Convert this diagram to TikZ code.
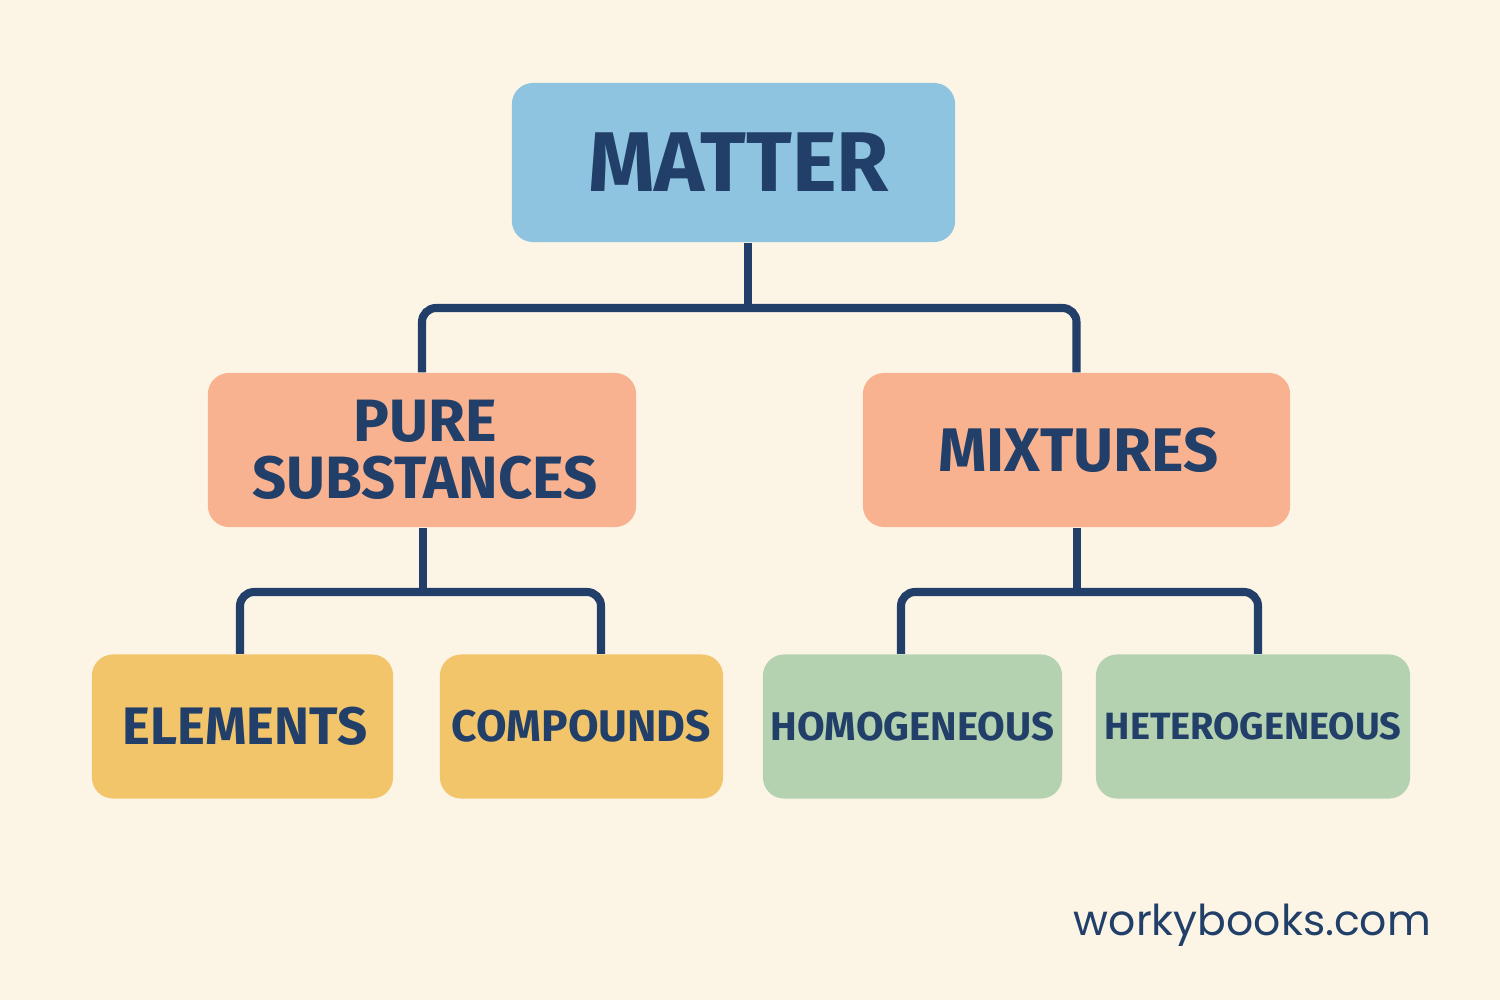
\documentclass[tikz,border=0pt]{standalone}
\usepackage{fontspec}
\setmainfont{Fira Sans}
\newfontfamily\wbfont{Poppins}
\definecolor{bgcol}{HTML}{FCF5E6}
\definecolor{navy}{HTML}{213F68}
\definecolor{bluebox}{HTML}{8EC4DF}
\definecolor{salmon}{HTML}{F8B290}
\definecolor{yellowbox}{HTML}{F3C56B}
\definecolor{greenbox}{HTML}{B4D2B0}
\tikzset{
  box/.style={rounded corners=6pt, inner sep=0pt, text=navy, align=center},
  conn/.style={draw=navy, line width=2.3pt, rounded corners=4pt},
}
\newcommand{\fs}[2]{\bfseries\fontsize{#1}{#2}\selectfont}
\begin{document}
\begin{tikzpicture}[x=0.01cm,y=-0.01cm]
\fill[bgcol] (0,0) rectangle (1500,1000);
\useasboundingbox (0,0) rectangle (1500,1000);

\node[box, fill=bluebox, minimum width=4.43cm, minimum height=1.59cm, font=\fs{24.1}{26}] (matter) at (733.5,162.5) {\hspace*{0.1cm}MATTER};
\node[box, fill=salmon, minimum width=4.28cm, minimum height=1.54cm, font=\fs{17}{16.2}] (pure) at (422,450) {\hspace*{0.06cm}PURE\\\hspace*{0.06cm}SUBSTANCES};
\node[box, fill=salmon, minimum width=4.27cm, minimum height=1.54cm, font=\fs{17.5}{18}] (mix) at (1076.5,450) {\hspace*{0.04cm}MIXTURES};
\node[box, fill=yellowbox, minimum width=3.01cm, minimum height=1.44cm, font=\fs{15}{16}] (elem) at (242.5,726.5) {\hspace*{0.05cm}ELEMENTS};
\node[box, fill=yellowbox, minimum width=2.83cm, minimum height=1.44cm, font=\fs{12.6}{14}] (comp) at (581.5,726.5) {COMPOUNDS};
\node[box, fill=greenbox, minimum width=2.99cm, minimum height=1.44cm, font=\fs{11.4}{12}] (homo) at (912.5,726.5) {HOMOGENEOUS};
\node[box, fill=greenbox, minimum width=3.14cm, minimum height=1.44cm, font=\fs{10.8}{12}] (hete) at (1253,726.5) {HETEROGENEOUS};

\node[text=navy, font=\wbfont\fontsize{12.1}{14}\selectfont, inner sep=0pt] (wb) at (1252.5,925) {workybooks.com};

\coordinate (m1) at (748,308);
\coordinate (p1) at (423,592);
\coordinate (x1) at (1077,592);
\coordinate (ex) at (240,0);
\coordinate (cx) at (601,0);
\coordinate (hx) at (901,0);
\coordinate (tx) at (1258,0);

\draw[conn] (matter.south -| m1) -- (m1);
\draw[conn] (pure.north) |- (m1) -| (mix.north);
\draw[conn] (pure.south -| p1) -- (p1);
\draw[conn] (elem.north -| ex) |- (p1) -| (comp.north -| cx);
\draw[conn] (mix.south -| x1) -- (x1);
\draw[conn] (homo.north -| hx) |- (x1) -| (hete.north -| tx);
\end{tikzpicture}
\end{document}
